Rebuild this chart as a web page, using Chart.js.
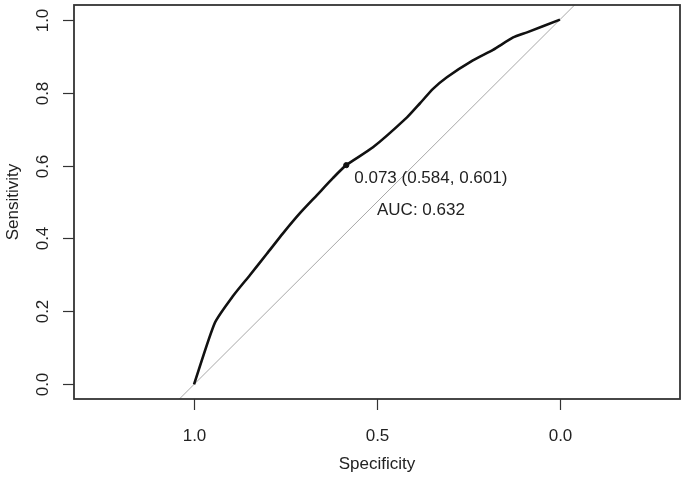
<!DOCTYPE html>
<html>
<head>
<meta charset="utf-8">
<script src="https://cdn.jsdelivr.net/npm/chart.js@4"></script>
<style>
  html, body { margin: 0; padding: 0; background: #fff; }
  #wrap { width: 685px; height: 478px; }
</style>
</head>
<body>
<div id="wrap"><canvas id="roc" width="685" height="478"></canvas></div>
<script>
// ROC curve (specificity on a reversed axis)
const specificity = [1.0, 0.943, 0.893, 0.847, 0.801, 0.757, 0.710, 0.664, 0.620, 0.584, 0.511, 0.418, 0.383, 0.347, 0.309, 0.238, 0.183, 0.128, 0.090, 0.0];
const sensitivity = [0.0, 0.169, 0.243, 0.300, 0.358, 0.414, 0.470, 0.519, 0.566, 0.601, 0.650, 0.732, 0.770, 0.810, 0.842, 0.888, 0.917, 0.951, 0.965, 1.0];

const bestSpec = 0.584;
const bestSens = 0.601;
const bestThreshold = 0.073;
const auc = 0.632;

const xTicks = [1.0, 0.5, 0.0];
const yTicks = [0.0, 0.2, 0.4, 0.6, 0.8, 1.0];

const FONT = '17px "Liberation Sans", Arial, sans-serif';
const INK = '#222';

const rocPoints = specificity.map((s, i) => ({ x: s, y: sensitivity[i] }));

// R style frame, ticks and labels drawn from the chart's scales
const baseAxes = {
    id: 'baseAxes',
    afterDraw(chart) {
        const ctx = chart.ctx;
        const a = chart.chartArea;
        const xs = chart.scales.x;
        const ys = chart.scales.y;
        ctx.save();
        ctx.strokeStyle = '#333';
        ctx.lineWidth = 1.8;
        ctx.strokeRect(a.left, a.top, a.right - a.left, a.bottom - a.top);

        ctx.fillStyle = INK;
        ctx.font = FONT;
        ctx.lineWidth = 1.2;

        // x axis
        ctx.textAlign = 'center';
        ctx.textBaseline = 'middle';
        xTicks.forEach(v => {
            const px = Math.round(xs.getPixelForValue(v)) + 0.5;
            ctx.beginPath();
            ctx.moveTo(px, a.bottom);
            ctx.lineTo(px, a.bottom + 11);
            ctx.stroke();
            ctx.fillText(v.toFixed(1), px, a.bottom + 37);
        });
        ctx.fillText('Specificity', (a.left + a.right) / 2, a.bottom + 65);

        // y axis, labels turned like R's las = 0
        yTicks.forEach(v => {
            const py = Math.round(ys.getPixelForValue(v)) + 0.5;
            ctx.beginPath();
            ctx.moveTo(a.left, py);
            ctx.lineTo(a.left - 11, py);
            ctx.stroke();
            ctx.save();
            ctx.translate(a.left - 31, py);
            ctx.rotate(-Math.PI / 2);
            ctx.fillText(v.toFixed(1), 0, 0);
            ctx.restore();
        });
        ctx.save();
        ctx.translate(13, (a.top + a.bottom) / 2);
        ctx.rotate(-Math.PI / 2);
        ctx.fillText('Sensitivity', 0, 0);
        ctx.restore();

        // threshold and AUC annotations
        ctx.textAlign = 'left';
        const tx = xs.getPixelForValue(bestSpec);
        const ty = ys.getPixelForValue(bestSens);
        ctx.fillText(bestThreshold.toFixed(3) + ' (' + bestSpec.toFixed(3) + ', ' + bestSens.toFixed(3) + ')', tx + 8, ty + 13);
        ctx.fillText('AUC: ' + auc.toFixed(3), xs.getPixelForValue(0.5), ys.getPixelForValue(0.477));
        ctx.restore();
    }
};

new Chart(document.getElementById('roc'), {
    type: 'scatter',
    data: {
        datasets: [
            {
                label: 'chance',
                data: [{ x: 1.1, y: -0.1 }, { x: -0.1, y: 1.1 }],
                showLine: true,
                borderColor: '#a8a8a8',
                borderWidth: 1,
                pointRadius: 0,
                order: 3
            },
            {
                label: 'ROC',
                data: rocPoints,
                showLine: true,
                borderColor: '#111',
                borderWidth: 2.6,
                pointRadius: 0,
                tension: 0.2,
                order: 2
            },
            {
                label: 'best',
                data: [{ x: bestSpec, y: bestSens }],
                pointRadius: 2.6,
                pointBackgroundColor: '#111',
                pointBorderColor: '#111',
                order: 1
            }
        ]
    },
    options: {
        responsive: false,
        animation: false,
        events: [],
        layout: { padding: { top: 4, right: 5, left: 0, bottom: 0 } },
        plugins: {
            legend: { display: false },
            tooltip: { enabled: false }
        },
        scales: {
            x: {
                type: 'linear',
                reverse: true,
                min: -0.328,
                max: 1.328,
                grid: { display: false },
                border: { display: false },
                ticks: { display: false },
                afterFit: s => { s.height = 79; }
            },
            y: {
                type: 'linear',
                min: -0.04,
                max: 1.04,
                grid: { display: false },
                border: { display: false },
                ticks: { display: false },
                afterFit: s => { s.width = 74; }
            }
        }
    },
    plugins: [baseAxes]
});
</script>
</body>
</html>
